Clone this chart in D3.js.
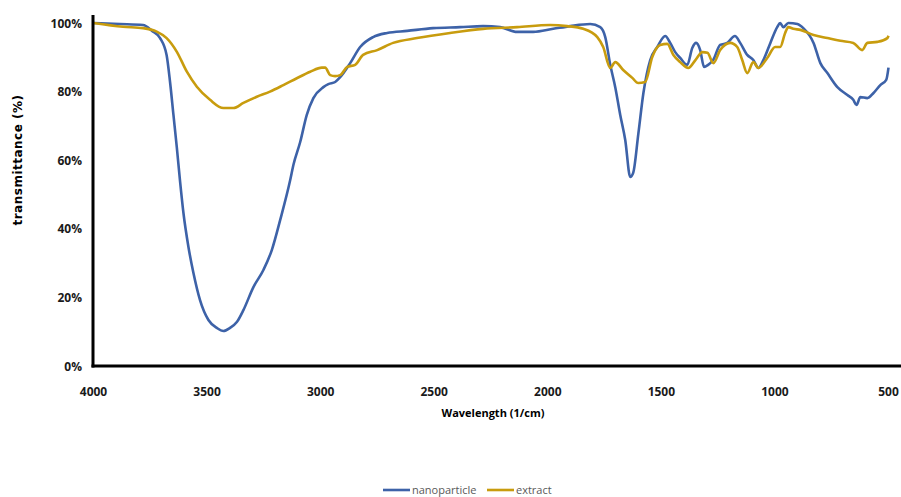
<!DOCTYPE html>
<html><head><meta charset="utf-8">
<script src="https://cdn.jsdelivr.net/npm/d3@7"></script>
<style>body{margin:0;background:#fff}svg{display:block}</style>
</head><body><div id="chart"></div>
<script>
// Wavenumbers (1/cm) and transmittance (%) for each series
const nanoWn = [4000,3883,3782,3742,3707,3678,3663,3648,3633,3619,3604,3582,3560,3531,3494,3457,3428,3399,3369,3340,3296,3252,3215,3178,3134,3120,3090,3061,3032,2988,2966,2936,2914,2870,2826,2769,2707,2619,2505,2386,2285,2210,2135,2064,1976,1901,1813,1769,1747,1725,1703,1681,1659,1637,1624,1601,1579,1549,1518,1483,1461,1439,1417,1386,1364,1347,1329,1312,1294,1272,1241,1210,1176,1153,1122,1095,1073,1051,1020,990,977,963,941,901,875,830,800,769,725,681,655,641,624,593,566,536,510,500];
const nanoT  = [100,99.7,99.4,97.7,95.6,90.6,82.8,73.2,63.6,53.9,44.6,34.7,27.1,19.2,13.4,11.1,10.2,11.1,12.8,16.3,23.0,28.0,33.8,42.6,54.2,58.6,65.3,73.2,78.1,81.3,82.2,82.8,84.2,88.3,93.0,95.9,97.1,97.7,98.5,98.8,99.1,98.8,97.4,97.4,98.3,99.1,99.7,98.8,95.9,87.8,81.3,73.2,65.9,55.1,56.3,67.9,79.6,89.2,93.0,96.2,94.2,91.5,89.8,87.8,92.7,94.2,92.1,87.2,87.8,89.2,93.6,94.2,96.2,94.2,90.7,89.2,86.9,89.2,94.2,98.8,100,98.8,100,99.7,98.5,94.2,88.3,85.4,81.3,79.0,77.6,76.1,78.4,78.1,79.6,81.9,83.4,87.0];
const extWn = [4000,3870,3782,3722,3678,3633,3589,3545,3487,3428,3384,3340,3281,3223,3164,3105,3046,2995,2980,2958,2936,2914,2883,2848,2813,2751,2681,2576,2430,2285,2135,1990,1915,1844,1782,1756,1725,1703,1668,1628,1602,1571,1540,1505,1474,1447,1417,1381,1350,1319,1297,1271,1241,1197,1166,1144,1122,1095,1073,1034,999,977,955,941,919,888,830,769,712,655,616,593,549,505,500];
const extT  = [100,98.9,98.5,97.5,95.6,91.6,85.8,81.4,77.6,75.2,75.2,76.7,78.5,80.0,81.9,83.9,85.8,87.0,87.0,84.8,84.5,84.8,87.2,87.8,90.7,92.1,94.2,95.6,97.1,98.3,98.8,99.4,99.1,98.3,95.9,93.0,86.9,88.6,86.3,84.0,82.5,82.8,90.1,93.6,93.9,90.7,88.6,86.9,89.2,91.5,91.3,88.3,92.1,94.2,93.0,89.2,85.4,88.6,86.9,89.8,93.0,93.0,97.1,98.8,98.3,98.0,96.5,95.6,94.8,94.2,92.1,94.2,94.5,95.6,96.3];
const xTicks = [4000,3500,3000,2500,2000,1500,1000,500];
const yTicks = [0,20,40,60,80,100];
const seriesNames = ["nanoparticle","extract"];
const seriesColors = ["#3d62a8","#c89c0e"];

const W = 901, H = 497;
const svg = d3.select("#chart").append("svg").attr("width", W).attr("height", H);
const x = d3.scaleLinear().domain([4000, 500]).range([93.5, 888.5]);
const y = d3.scaleLinear().domain([0, 100]).range([366, 23]);

const font = "'Open Sans', sans-serif";

// y tick labels
svg.append("g").selectAll("text").data(yTicks).join("text")
  .attr("x", 82).attr("y", d => y(d) + 4.5)
  .attr("text-anchor", "end")
  .attr("font-family", font).attr("font-weight", 700).attr("font-size", 12)
  .attr("fill", "#1a1a1a")
  .text(d => d + "%");

// x tick labels
svg.append("g").selectAll("text").data(xTicks).join("text")
  .attr("x", d => x(d)).attr("y", 396)
  .attr("text-anchor", "middle")
  .attr("font-family", font).attr("font-weight", 700).attr("font-size", 12)
  .attr("fill", "#1a1a1a")
  .text(d => d);

// series
const line = d3.line().x(d => x(d[0])).y(d => y(d[1])).curve(d3.curveMonotoneX);
const series = [d3.zip(nanoWn, nanoT), d3.zip(extWn, extT)];
// draw blue first, then extract on top
series.forEach((s, i) => {
  svg.append("path").datum(s).attr("d", line)
    .attr("fill", "none").attr("stroke", seriesColors[i])
    .attr("stroke-width", 2.6).attr("stroke-linejoin", "round");
});

// axes lines
svg.append("line").attr("x1", 93).attr("x2", 93).attr("y1", 15).attr("y2", 367.5)
  .attr("stroke", "#000").attr("stroke-width", 3);
svg.append("line").attr("x1", 91.5).attr("x2", 901).attr("y1", 366).attr("y2", 366)
  .attr("stroke", "#000").attr("stroke-width", 3);

// axis titles
svg.append("text").attr("transform", "translate(22,160) rotate(-90)")
  .attr("text-anchor", "middle")
  .attr("font-family", "'DejaVu Sans', sans-serif").attr("font-weight", 700).attr("font-size", 12)
  .attr("letter-spacing", 0.5).attr("fill", "#000")
  .text("transmittance (%)");
svg.append("text").attr("x", 493).attr("y", 417)
  .attr("text-anchor", "middle")
  .attr("font-family", font).attr("font-weight", 700).attr("font-size", 11)
  .attr("fill", "#000")
  .text("Wavelength (1/cm)");

// legend
const legX = [383, 487];
const lg = svg.append("g");
seriesNames.forEach((n, i) => {
  lg.append("line").attr("x1", legX[i]).attr("x2", legX[i] + 27).attr("y1", 490).attr("y2", 490)
    .attr("stroke", seriesColors[i]).attr("stroke-width", 2.6);
  lg.append("text").attr("x", legX[i] + 29).attr("y", 494)
    .attr("font-family", font).attr("font-size", 11).attr("fill", "#595959")
    .text(n);
});
</script></body></html>
